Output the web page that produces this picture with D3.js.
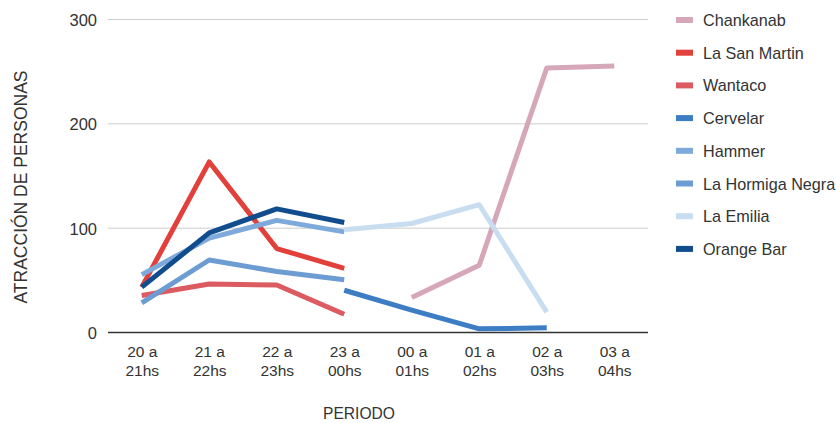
<!DOCTYPE html>
<html>
<head>
<meta charset="utf-8">
<script src="https://cdn.jsdelivr.net/npm/d3@7"></script>
<style>
  body { margin: 0; background: #fff; }
  text { font-family: "Liberation Sans", Arial, sans-serif; }
</style>
</head>
<body>
<svg id="chart" width="836" height="423"></svg>
<script>
const periods = ["20 a|21hs", "21 a|22hs", "22 a|23hs", "23 a|00hs", "00 a|01hs", "01 a|02hs", "02 a|03hs", "03 a|04hs"];
const seriesNames = ["Chankanab", "La San Martin", "Wantaco", "Cervelar", "Hammer", "La Hormiga Negra", "La Emilia", "Orange Bar"];
const seriesColors = ["#d6a7b9", "#e2403a", "#dc5b60", "#3d7dc4", "#7eaadb", "#6d9cd3", "#c9ddf0", "#114d8d"];

// null = no value for that period
const chankanab    = [null, null, null, null, 33, 64, 253, 255];
const laSanMartin  = [43, 163, 80, 61, null, null, null, null];
const wantaco      = [35, 46, 45, 17, null, null, null, null];
const cervelar     = [null, null, null, 40, 21, 3, 4, null];
const hammer       = [55, 90, 107, 96, null, null, null, null];
const hormigaNegra = [28, 69, 58, 50, null, null, null, null];
const laEmilia     = [null, null, null, 98, 104, 122, 19, null];
const orangeBar    = [43, 95, 118, 105, null, null, null, null];
const seriesValues = [chankanab, laSanMartin, wantaco, cervelar, hammer, hormigaNegra, laEmilia, orangeBar];
const yTicks = [0, 100, 200, 300];

const svg = d3.select("#chart");
const plotLeft = 108, plotRight = 648, plotTop = 19, plotBottom = 332;

const x = d3.scalePoint().domain(periods).range([plotLeft, plotRight]).padding(0.5);
const y = d3.scaleLinear().domain([0, 300]).range([plotBottom, plotTop]);

// gridlines + y labels
const yAxis = d3.axisLeft(y).tickValues(yTicks).tickSize(-(plotRight - plotLeft)).tickPadding(11);
const gy = svg.append("g").attr("transform", `translate(${plotLeft},0)`).call(yAxis);
gy.select(".domain").remove();
gy.selectAll(".tick line").attr("stroke", d => d === 0 ? "#333" : "#ccc").attr("stroke-width", d => d === 0 ? 1.5 : 1);
gy.selectAll(".tick text").attr("font-size", 16.5).attr("fill", "#333").attr("dy", "0.4em");

// x labels
const xAxis = d3.axisBottom(x).tickSize(0).tickFormat("");
const gx = svg.append("g").attr("transform", `translate(0,${plotBottom})`).call(xAxis);
gx.select(".domain").remove();
gx.selectAll(".tick").append("text")
  .attr("text-anchor", "middle").attr("font-size", 15.5).attr("fill", "#333")
  .selectAll("tspan").data(d => d.split("|")).enter().append("tspan")
  .attr("x", 0).attr("y", (d, i) => 25 + i * 19).text(d => d);

// lines
const line = d3.line()
  .defined(d => d.v !== null)
  .x(d => x(d.p))
  .y(d => y(d.v));

seriesValues.forEach((vals, i) => {
  svg.append("path")
    .datum(vals.map((v, j) => ({ p: periods[j], v: v })))
    .attr("fill", "none")
    .attr("stroke", seriesColors[i])
    .attr("stroke-width", 5)
    .attr("stroke-linejoin", "round")
    .attr("d", line);
});

// axis titles
svg.append("text")
  .attr("transform", "translate(27,187) rotate(-90)")
  .attr("text-anchor", "middle").attr("font-size", 17.5).attr("fill", "#333")
  .text("ATRACCIÓN DE PERSONAS");

svg.append("text")
  .attr("x", 359).attr("y", 419)
  .attr("text-anchor", "middle").attr("font-size", 15.6).attr("fill", "#333")
  .text("PERIODO");

// legend
const legend = svg.append("g").attr("transform", "translate(676,20)");
const rows = legend.selectAll("g").data(seriesNames).enter().append("g")
  .attr("transform", (d, i) => `translate(0,${i * 32.7})`);
rows.append("rect").attr("x", 0).attr("y", -3).attr("width", 17).attr("height", 6)
  .attr("fill", (d, i) => seriesColors[i]);
rows.append("text").attr("x", 27).attr("y", 6)
  .attr("font-size", 16.2).attr("fill", "#333").text(d => d);
</script>
</body>
</html>
